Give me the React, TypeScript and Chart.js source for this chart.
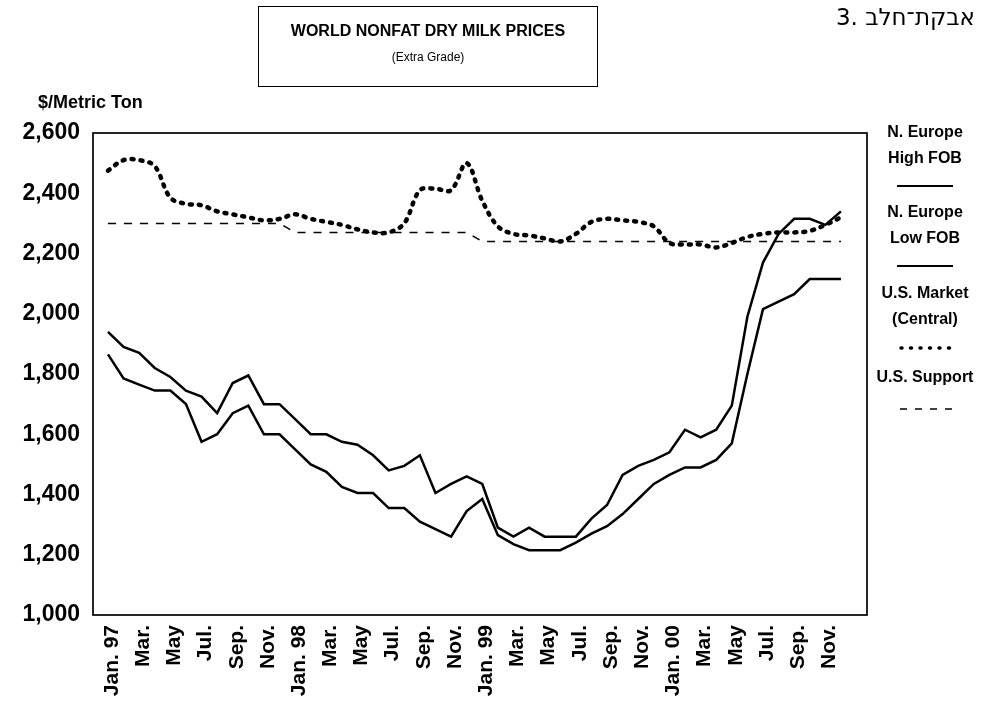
import React, { useEffect, useRef } from "react";
import { Chart, registerables } from "chart.js";

Chart.register(...registerables);

// Monthly data, Jan. 1997 - Dec. 2000 ($/metric ton)
const highFOB = [
  1940, 1890, 1870, 1820, 1790, 1745, 1725, 1670, 1770, 1795, 1700, 1700,
  1650, 1600, 1600, 1575, 1565, 1530, 1480, 1495, 1530, 1405, 1435, 1460,
  1435, 1290, 1260, 1290, 1260, 1260, 1260, 1320, 1365, 1465, 1495, 1515,
  1540, 1615, 1590, 1615, 1695, 1990, 2170, 2265, 2315, 2315, 2295, 2340,
];
const lowFOB = [
  1865, 1785, 1765, 1745, 1745, 1700, 1575, 1600, 1670, 1695, 1600, 1600,
  1550, 1500, 1475, 1425, 1405, 1405, 1355, 1355, 1310, 1285, 1260, 1345,
  1385, 1265, 1235, 1215, 1215, 1215, 1240, 1270, 1295, 1335, 1385, 1435,
  1465, 1490, 1490, 1515, 1570, 1800, 2015, 2040, 2065, 2115, 2115, 2115,
];
const usMarket = [
  2475, 2510, 2510, 2490, 2385, 2365, 2360, 2340, 2330, 2320, 2310, 2315,
  2330, 2315, 2305, 2295, 2280, 2270, 2270, 2300, 2410, 2415, 2410, 2500,
  2375, 2290, 2265, 2260, 2250, 2240, 2265, 2305, 2315, 2310, 2305, 2290,
  2235, 2230, 2230, 2220, 2235, 2255, 2265, 2270, 2270, 2275, 2295, 2320,
];
const usSupport = [
  2300, 2300, 2300, 2300, 2300, 2300, 2300, 2300, 2300, 2300, 2300, 2300,
  2270, 2270, 2270, 2270, 2270, 2270, 2270, 2270, 2270, 2270, 2270, 2270,
  2240, 2240, 2240, 2240, 2240, 2240, 2240, 2240, 2240, 2240, 2240, 2240,
  2240, 2240, 2240, 2240, 2240, 2240, 2240, 2240, 2240, 2240, 2240, 2240,
];
// Tick labels, one every second month (month index = 2 * position)
const tickLabels = [
  "Jan. 97", "Mar.", "May", "Jul.", "Sep.", "Nov.",
  "Jan. 98", "Mar.", "May", "Jul.", "Sep.", "Nov.",
  "Jan. 99", "Mar.", "May", "Jul.", "Sep.", "Nov.",
  "Jan. 00", "Mar.", "May", "Jul.", "Sep.", "Nov.",
];
const yTicks = [1000, 1200, 1400, 1600, 1800, 2000, 2200, 2400, 2600];

const FONT = "'Liberation Sans', Arial, Helvetica, sans-serif";

const toPoints = (arr: number[]) => arr.map((v, i) => ({ x: i, y: v }));

const framePlugin = {
  id: "frame",
  afterDraw(chart: any) {
    const { ctx, chartArea } = chart;
    const { left, top, right, bottom } = chartArea;
    ctx.save();
    ctx.strokeStyle = "#000";
    ctx.lineWidth = 1.7;
    ctx.strokeRect(left, top, right - left, bottom - top);
    ctx.restore();
  },
};

export default function App() {
  const ref = useRef<HTMLCanvasElement | null>(null);

  useEffect(() => {
    if (!ref.current) return;
    const chart = new Chart(ref.current, {
      type: "line",
      data: {
        datasets: [
          {
            label: "N. Europe High FOB",
            data: toPoints(highFOB),
            borderColor: "#000",
            borderWidth: 2.5,
            pointRadius: 0,
            tension: 0,
          },
          {
            label: "N. Europe Low FOB",
            data: toPoints(lowFOB),
            borderColor: "#000",
            borderWidth: 2.5,
            pointRadius: 0,
            tension: 0,
          },
          {
            label: "U.S. Market (Central)",
            data: toPoints(usMarket),
            borderColor: "#000",
            borderWidth: 4.5,
            borderDash: [2, 7],
            borderCapStyle: "round",
            pointRadius: 0,
            tension: 0.35,
          },
          {
            label: "U.S. Support",
            data: toPoints(usSupport),
            borderColor: "#000",
            borderWidth: 1.5,
            borderDash: [8, 8],
            pointRadius: 0,
            tension: 0,
          },
        ],
      },
      options: {
        responsive: false,
        animation: false,
        layout: { padding: { top: 133, right: 120, left: 0, bottom: 0 } },
        plugins: {
          legend: { display: false },
          title: { display: false },
          tooltip: { enabled: false },
        },
        scales: {
          x: {
            type: "linear",
            min: -0.96,
            max: 48.67,
            grid: { display: false, drawTicks: false },
            border: { display: false },
            afterBuildTicks: (scale: any) => {
              scale.ticks = tickLabels.map((_, i) => ({ value: i * 2 }));
            },
            afterFit: (scale: any) => {
              scale.height = 93;
            },
            ticks: {
              autoSkip: false,
              maxRotation: 90,
              minRotation: 90,
              padding: 10,
              labelOffset: 4,
              color: "#000",
              font: { family: FONT, size: 21, weight: "bold" },
              callback: (value: any) => tickLabels[Math.round(Number(value) / 2)] ?? "",
            },
          },
          y: {
            min: 1000,
            max: 2600,
            grid: { display: false, drawTicks: false },
            border: { display: false },
            afterBuildTicks: (scale: any) => {
              scale.ticks = yTicks.map((v) => ({ value: v }));
            },
            afterFit: (scale: any) => {
              scale.width = 93;
            },
            ticks: {
              padding: 13,
              color: "#000",
              font: { family: FONT, size: 23, weight: "bold" },
              callback: (value: any) => Number(value).toLocaleString("en-US"),
            },
          },
        },
      },
      plugins: [framePlugin],
    } as any);
    return () => chart.destroy();
  }, []);

  const legendText = (text: string, y: number) => (
    <div
      style={{
        position: "absolute",
        left: 865,
        width: 120,
        top: y - 10,
        height: 20,
        lineHeight: "20px",
        textAlign: "center",
        fontFamily: FONT,
        fontWeight: "bold",
        fontSize: 16,
        color: "#000",
        whiteSpace: "nowrap",
      }}
    >
      {text}
    </div>
  );

  return (
    <div
      style={{
        position: "fixed",
        left: 0,
        top: 0,
        width: 987,
        height: 708,
        background: "#fff",
        overflow: "hidden",
      }}
    >
      <canvas ref={ref} width={987} height={708} style={{ position: "absolute", left: 0, top: 0 }} />
      {/* Title box */}
      <div
        style={{
          position: "absolute",
          left: 258,
          top: 6,
          width: 338,
          height: 79,
          border: "1.5px solid #000",
          fontFamily: FONT,
          color: "#000",
          textAlign: "center",
        }}
      >
        <div style={{ marginTop: 14, fontWeight: "bold", fontSize: 16, lineHeight: "20px" }}>
          WORLD NONFAT DRY MILK PRICES
        </div>
        <div style={{ marginTop: 9, fontSize: 12, lineHeight: "14px" }}>(Extra Grade)</div>
      </div>
      {/* Hebrew heading */}
      <div
        dir="ltr"
        style={{
          position: "absolute",
          right: 12,
          top: 4,
          fontFamily: "'DejaVu Sans', 'Liberation Sans', sans-serif",
          fontSize: 23,
          color: "#000",
          whiteSpace: "nowrap",
        }}
      >
        3. אבקת־חלב
      </div>
      {/* Y-axis unit */}
      <div
        style={{
          position: "absolute",
          left: 38,
          top: 92,
          fontFamily: FONT,
          fontWeight: "bold",
          fontSize: 18,
          color: "#000",
          whiteSpace: "nowrap",
        }}
      >
        $/Metric Ton
      </div>
      {/* Legend */}
      {legendText("N. Europe", 132)}
      {legendText("High FOB", 158)}
      {legendText("N. Europe", 212)}
      {legendText("Low FOB", 238)}
      {legendText("U.S. Market", 293)}
      {legendText("(Central)", 319)}
      {legendText("U.S. Support", 377)}
      <svg width={987} height={708} style={{ position: "absolute", left: 0, top: 0, pointerEvents: "none" }}>
        <line x1={897} y1={186} x2={953} y2={186} stroke="#000" strokeWidth={2} />
        <line x1={897} y1={266} x2={953} y2={266} stroke="#000" strokeWidth={2} />
        <line
          x1={901}
          y1={348}
          x2={953}
          y2={348}
          stroke="#000"
          strokeWidth={3.5}
          strokeDasharray="1 8.5"
          strokeLinecap="round"
        />
        <line x1={900} y1={409} x2={956} y2={409} stroke="#000" strokeWidth={1.5} strokeDasharray="7 8" />
      </svg>
    </div>
  );
}
